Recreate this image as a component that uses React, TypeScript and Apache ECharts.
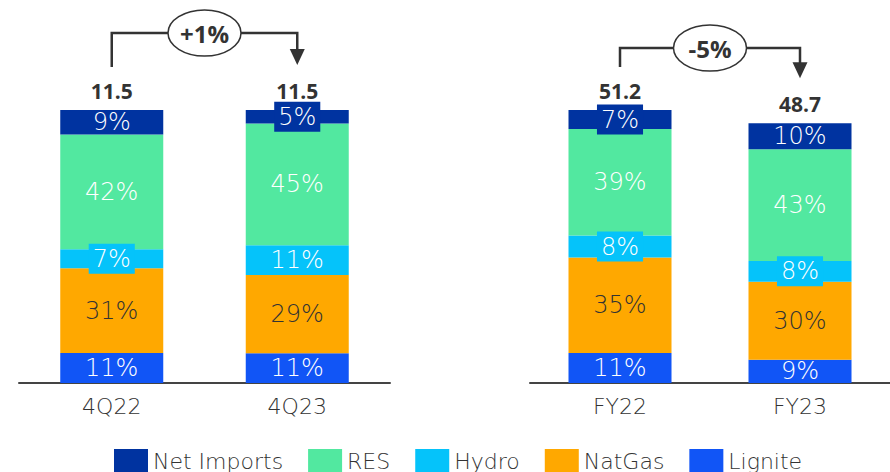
import React, { useEffect, useRef } from "react";
import * as echarts from "echarts";

const periods = ["4Q22", "4Q23", "FY22", "FY23"];
const panelOf = [0, 0, 1, 1];
const totals = [11.5, 11.5, 51.2, 48.7];
const totalLabels = ["11.5", "11.5", "51.2", "48.7"];
const netImports = [9, 5, 7, 10];
const res = [42, 45, 39, 43];
const hydro = [7, 11, 8, 8];
const natGas = [31, 29, 35, 30];
const lignite = [11, 11, 11, 9];
const deltas = ["+1%", "-5%"];
const legendOrder = ["Net Imports", "RES", "Hydro", "NatGas", "Lignite"];

const FONT = "'DejaVu Sans', 'Open Sans', sans-serif";
const BOLD_FONT = "'Open Sans', 'Noto Sans', sans-serif";
const DARK = "#333333";

const seriesDefs = [
  { name: "Lignite", shares: lignite, color: "#1155F6", text: "#ffffff" },
  { name: "NatGas", shares: natGas, color: "#FFA800", text: DARK },
  { name: "Hydro", shares: hydro, color: "#05C3FA", text: "#ffffff" },
  { name: "RES", shares: res, color: "#52E8A0", text: "#ffffff" },
  { name: "Net Imports", shares: netImports, color: "#0033A0", text: "#ffffff" },
];

const shareSum = (i: number) =>
  seriesDefs.reduce((s, d) => s + d.shares[i], 0);

export default function App() {
  const ref = useRef<HTMLDivElement>(null);
  useEffect(() => {
    if (!ref.current) return;
    const chart = echarts.init(ref.current, null, { renderer: "svg" });
    const panels = [0, 1];
    const idxOf = (p: number) =>
      periods.map((_, i) => i).filter((i) => panelOf[i] === p);
    const yMax = (p: number) =>
      Math.max(...idxOf(p).map((i) => totals[i])) * (300 / 273);

    const series: any[] = [];
    panels.forEach((p) => {
      seriesDefs.forEach((d) => {
        series.push({
          name: d.name,
          type: "bar",
          xAxisIndex: p,
          yAxisIndex: p,
          stack: "s" + p,
          barWidth: 103,
          itemStyle: { color: d.color },
          label: {
            show: true,
            position: "inside",
            color: d.text,
            fontFamily: FONT,
            fontSize: 24,
            fontWeight: 200,
          },
          data: idxOf(p).map((i) => {
            const share = d.shares[i];
            const item: any = {
              value: (share / shareSum(i)) * totals[i],
              label: { formatter: share + "%" },
            };
            if (share < 9) {
              item.label.backgroundColor = d.color;
              item.label.padding = [3, 4];
            }
            return item;
          }),
        });
      });
      series.push({
        name: "Total",
        type: "bar",
        xAxisIndex: p,
        yAxisIndex: p,
        stack: "s" + p,
        barWidth: 103,
        itemStyle: { color: "transparent" },
        label: {
          show: true,
          position: "top",
          distance: 9,
          color: DARK,
          fontFamily: BOLD_FONT,
          fontSize: 21,
          fontWeight: "bold",
        },
        data: idxOf(p).map((i) => ({
          value: 0,
          label: { formatter: totalLabels[i] },
        })),
      });
    });

    chart.setOption({
      animation: false,
      legend: {
        data: legendOrder,
        left: 109,
        top: 444,
        icon: "rect",
        itemWidth: 34,
        itemHeight: 24,
        itemGap: 25,
        textStyle: { color: DARK, fontFamily: FONT, fontSize: 22, fontWeight: 200 },
        selectedMode: false,
      },
      grid: [
        { left: 19, width: 371, top: 83, height: 300 },
        { left: 530, width: 371, top: 83, height: 300 },
      ],
      xAxis: panels.map((p) => ({
        type: "category",
        gridIndex: p,
        data: idxOf(p).map((i) => periods[i]),
        axisLine: { lineStyle: { color: "#444444", width: 2 } },
        axisTick: { show: false },
        axisLabel: {
          color: DARK,
          fontFamily: FONT,
          fontSize: 22,
          fontWeight: 200,
          margin: 12,
        },
      })),
      yAxis: panels.map((p) => ({
        type: "value",
        gridIndex: p,
        min: 0,
        max: yMax(p),
        show: false,
        splitLine: { show: false },
      })),
      series,
    });

    const bracketY = [33, 48];
    const graphics: any[] = [];
    panels.forEach((p) => {
      const [a, b] = idxOf(p);
      const pa = chart.convertToPixel({ gridIndex: p }, [periods[a], totals[a]]) as number[];
      const pb = chart.convertToPixel({ gridIndex: p }, [periods[b], totals[b]]) as number[];
      const y = bracketY[p];
      const startY = pa[1] - 43;
      const tipY = pb[1] - 45;
      const headH = 16;
      graphics.push({
        type: "polyline",
        shape: {
          points: [
            [pa[0], startY],
            [pa[0], y],
            [pb[0], y],
            [pb[0], tipY - headH + 1],
          ],
        },
        style: { stroke: DARK, lineWidth: 2.5, fill: "none" },
        z: 10,
      });
      graphics.push({
        type: "polygon",
        shape: {
          points: [
            [pb[0] - 7.5, tipY - headH],
            [pb[0] + 7.5, tipY - headH],
            [pb[0], tipY],
          ],
        },
        style: { fill: DARK },
        z: 10,
      });
      const cx = (pa[0] + pb[0]) / 2;
      graphics.push({
        type: "ellipse",
        shape: { cx, cy: y, rx: 36.5, ry: 23 },
        style: { fill: "#ffffff", stroke: DARK, lineWidth: 1.5 },
        z: 11,
      });
      graphics.push({
        type: "text",
        x: cx,
        y: y,
        style: {
          text: deltas[p],
          fill: DARK,
          font: `bold 24px ${BOLD_FONT}`,
          align: "center",
          verticalAlign: "middle",
        },
        z: 12,
      });
    });
    chart.setOption({ graphic: graphics });

    return () => chart.dispose();
  }, []);
  return (
    <div
      ref={ref}
      style={{ position: "absolute", left: 0, top: 0, width: 890, height: 472 }}
    />
  );
}
